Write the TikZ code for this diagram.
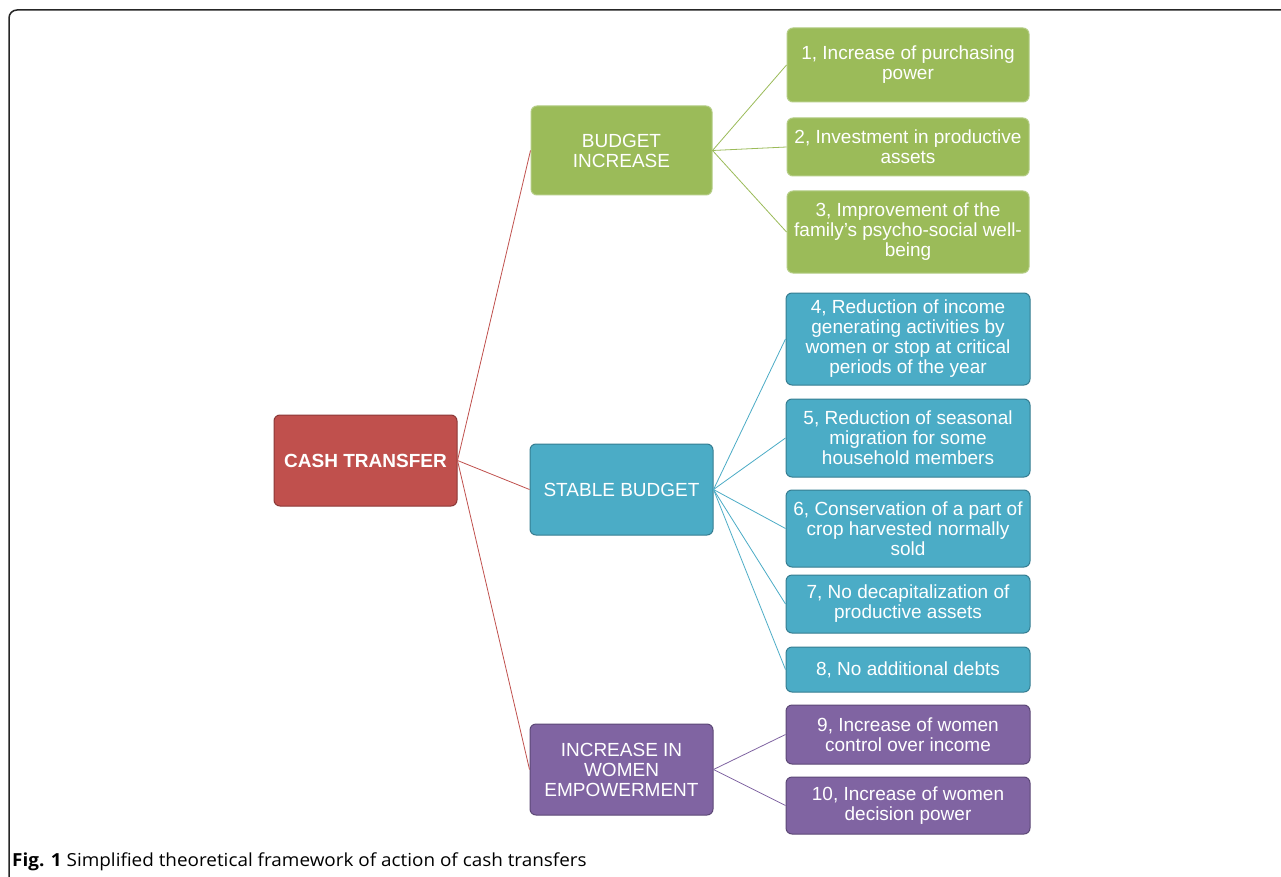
\documentclass[tikz,border=0pt]{standalone}
\usepackage{fontspec}
\setmainfont{Liberation Sans}
\newfontfamily\capfont{Open Sans}
\definecolor{cred}{HTML}{C0504D}
\definecolor{credb}{HTML}{8C3836}
\definecolor{cgreen}{HTML}{9BBB59}
\definecolor{cgreenb}{HTML}{B4CD85}
\definecolor{cblue}{HTML}{4BACC6}
\definecolor{cblueb}{HTML}{357D91}
\definecolor{cpurp}{HTML}{8064A2}
\definecolor{cpurpb}{HTML}{5C4876}
\begin{document}
\begin{tikzpicture}[x=1pt,y=-1pt,
  box/.style={rounded corners=6pt, line width=1pt, text=white, align=center,
    inner sep=0pt, font=\fontsize{19}{20}\selectfont},
  rootbox/.style={box, fill=cred, draw=credb, font=\fontsize{19}{20}\selectfont\bfseries},
  gbox/.style={box, fill=cgreen, draw=cgreenb},
  bbox/.style={box, fill=cblue, draw=cblueb},
  pbox/.style={box, fill=cpurp, draw=cpurpb},
  rline/.style={draw=cred, line width=0.8pt},
  gline/.style={draw=cgreen, line width=0.8pt},
  bline/.style={draw=cblue, line width=0.8pt},
  pline/.style={draw=cpurp, line width=0.8pt}]
\useasboundingbox (0,0) rectangle (1281,877);
\fill[white] (0,0) rectangle (1281,877);
\draw[line width=1.5pt, draw=black!85] (9,877) -- (9,18) arc[start angle=180, end angle=270, radius=8] -- (1282,10);

\node[rootbox, minimum width=183pt, minimum height=91pt] (root) at (365.5,460.5) {CASH TRANSFER};
\node[gbox, minimum width=181pt, minimum height=89pt] (budget) at (621.5,150.5) {BUDGET\\INCREASE};
\node[bbox, minimum width=183pt, minimum height=91pt] (stable) at (621.5,489.5) {STABLE BUDGET};
\node[pbox, minimum width=183pt, minimum height=91pt] (women) at (621.5,769.5) {INCREASE IN\\WOMEN\\EMPOWERMENT};

\node[gbox, minimum width=242pt, minimum height=74pt] (c1) at (908,65) {1, Increase of purchasing\\power};
\node[gbox, minimum width=242pt, minimum height=58pt] (c2) at (908,147) {2, Investment in productive\\assets};
\node[gbox, minimum width=242pt, minimum height=82pt] (c3) at (908,232) {3, Improvement of the\\family's psycho-social well-\\being};
\node[bbox, minimum width=244pt, minimum height=92pt] (c4) at (908,339) {4, Reduction of income\\generating activities by\\women or stop at critical\\periods of the year};
\node[bbox, minimum width=244pt, minimum height=78pt] (c5) at (908,438) {5, Reduction of seasonal\\migration for some\\household members};
\node[bbox, minimum width=244pt, minimum height=77pt] (c6) at (908,528.5) {6, Conservation of a part of\\crop harvested normally\\sold};
\node[bbox, minimum width=244pt, minimum height=58pt] (c7) at (908,604) {7, No decapitalization of\\productive assets};
\node[bbox, minimum width=244pt, minimum height=45pt] (c8) at (908,669.5) {8, No additional debts};
\node[pbox, minimum width=244pt, minimum height=59pt] (c9) at (908,734.5) {9, Increase of women\\control over income};
\node[pbox, minimum width=244pt, minimum height=57pt] (c10) at (908,805.5) {10, Increase of women\\decision power};

\draw[rline] (root.east) -- (budget.west);
\draw[rline] (root.east) -- (stable.west);
\draw[rline] (root.east) -- (women.west);
\foreach \c in {c1,c2,c3} \draw[gline] (budget.east) -- (\c.west);
\foreach \c in {c4,c5,c6,c7,c8} \draw[bline] (stable.east) -- (\c.west);
\foreach \c in {c9,c10} \draw[pline] (women.east) -- (\c.west);

\node[anchor=base west, inner sep=0pt, font=\capfont\fontsize{18}{20}\selectfont] (cap) at (12,866) {\scalebox{1.05}[1]{\textbf{Fig. 1} Simplified theoretical framework of action of cash transfers}};
\end{tikzpicture}
\end{document}
